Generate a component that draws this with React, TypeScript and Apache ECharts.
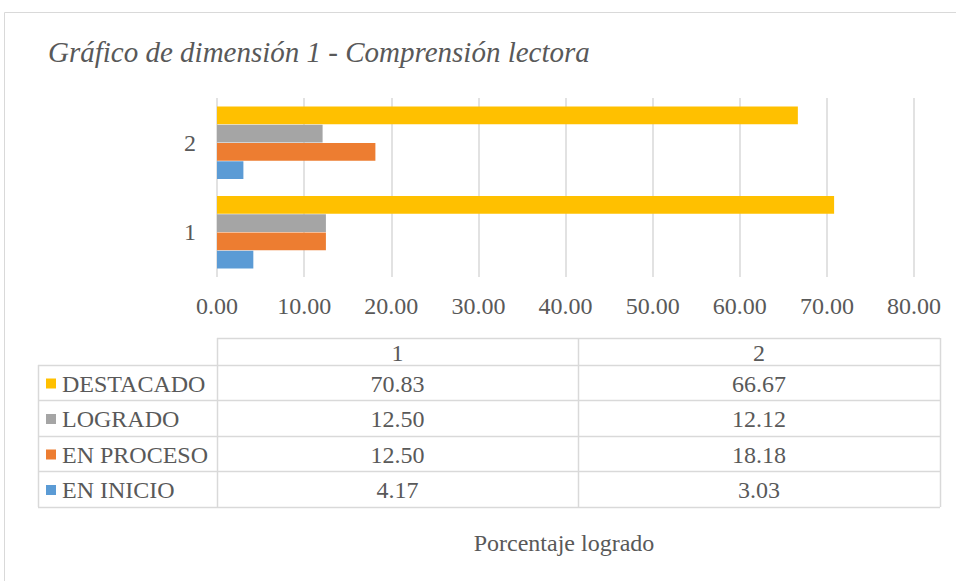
import React, { useEffect, useRef } from "react";
import * as echarts from "echarts";

const categories = ["1", "2"];
const seriesNames = ["DESTACADO", "LOGRADO", "EN PROCESO", "EN INICIO"];
const destacado = [70.83, 66.67];
const logrado = [12.5, 12.12];
const enProceso = [12.5, 18.18];
const enInicio = [4.17, 3.03];
const seriesColors = ["#FFC000", "#A5A5A5", "#ED7D31", "#5B9BD5"];
const xTicks = { min: 0, max: 80, interval: 10 };
const titleText = "Gráfico de dimensión 1 - Comprensión lectora";
const axisTitle = "Porcentaje logrado";

const FONT = "'Liberation Serif', 'Times New Roman', serif";
const TXT = "#595959";
const LINE = "#D9D9D9";

export default function App() {
  const ref = useRef<HTMLDivElement>(null);
  useEffect(() => {
    if (!ref.current) return;
    const chart = echarts.init(ref.current, undefined, { renderer: "svg" });
    const values = [destacado, logrado, enProceso, enInicio];

    // table layout
    const tLeft = 38, c1 = 217, c2 = 578, tRight = 940;
    const hTop = 338;
    const rowY = [365, 400, 436, 471, 507];
    const g: any[] = [];
    g.push({ type: "rect", shape: { x: 4.5, y: 12.5, width: 980, height: 600 }, style: { fill: "none", stroke: LINE, lineWidth: 1 }, silent: true });
    const hl = (x1: number, x2: number, y: number) => g.push({ type: "line", shape: { x1, y1: y + 0.5, x2, y2: y + 0.5 }, style: { stroke: LINE, lineWidth: 1.5 } });
    const vl = (x: number, y1: number, y2: number) => g.push({ type: "line", shape: { x1: x + 0.5, y1, x2: x + 0.5, y2 }, style: { stroke: LINE, lineWidth: 1.5 } });
    hl(c1, tRight, hTop);
    rowY.forEach((y) => hl(tLeft, tRight, y));
    vl(tLeft, rowY[0], rowY[4]);
    vl(c1, hTop, rowY[4]);
    vl(c2, hTop, rowY[4]);
    vl(tRight, hTop, rowY[4]);
    const colCenters = [(c1 + c2) / 2, (c2 + tRight) / 2];
    categories.forEach((c, i) => {
      g.push({ type: "text", x: colCenters[i], y: (hTop + rowY[0]) / 2 + 1, style: { text: c, fill: TXT, font: `24px ${FONT}`, align: "center", verticalAlign: "middle" } });
    });
    seriesNames.forEach((name, r) => {
      const cy = (rowY[r] + rowY[r + 1]) / 2 + 1;
      g.push({ type: "rect", shape: { x: 46, y: cy - 5, width: 10, height: 10 }, style: { fill: seriesColors[r] } });
      g.push({ type: "text", x: 62, y: cy, style: { text: name, fill: TXT, font: `24px ${FONT}`, align: "left", verticalAlign: "middle" } });
      categories.forEach((_, ci) => {
        g.push({ type: "text", x: colCenters[ci], y: cy, style: { text: values[r][ci].toFixed(2), fill: TXT, font: `24px ${FONT}`, align: "center", verticalAlign: "middle" } });
      });
    });
    g.push({ type: "text", x: 564, y: 543, style: { text: axisTitle, fill: TXT, font: `24px ${FONT}`, align: "center", verticalAlign: "middle" } });
    g.push({ type: "text", x: 48, y: 52, style: { text: titleText, fill: TXT, font: `italic 29px ${FONT}`, align: "left", verticalAlign: "middle" } });

    chart.setOption({
      animation: false,
      grid: { left: 217, right: 42, top: 98, height: 179, containLabel: false },
      xAxis: {
        type: "value",
        min: xTicks.min,
        max: xTicks.max,
        interval: xTicks.interval,
        axisLine: { show: false },
        axisTick: { show: false },
        splitLine: { show: true, lineStyle: { color: LINE, width: 1.5 } },
        axisLabel: { formatter: (v: number) => v.toFixed(2), color: TXT, fontFamily: FONT, fontSize: 24, margin: 17 },
      },
      yAxis: {
        type: "category",
        data: categories,
        axisLine: { show: false },
        axisTick: { show: false },
        axisLabel: { color: TXT, fontFamily: FONT, fontSize: 24, margin: 21 },
      },
      series: seriesNames.map((name, i) => ({
        name,
        type: "bar",
        data: values[i],
        itemStyle: { color: seriesColors[i] },
        barGap: "3%",
        barCategoryGap: "19%",
      })),
      graphic: g,
    });
    return () => chart.dispose();
  }, []);
  return <div ref={ref} style={{ position: "absolute", left: 0, top: 0, width: 956, height: 581, background: "#fff" }} />;
}
